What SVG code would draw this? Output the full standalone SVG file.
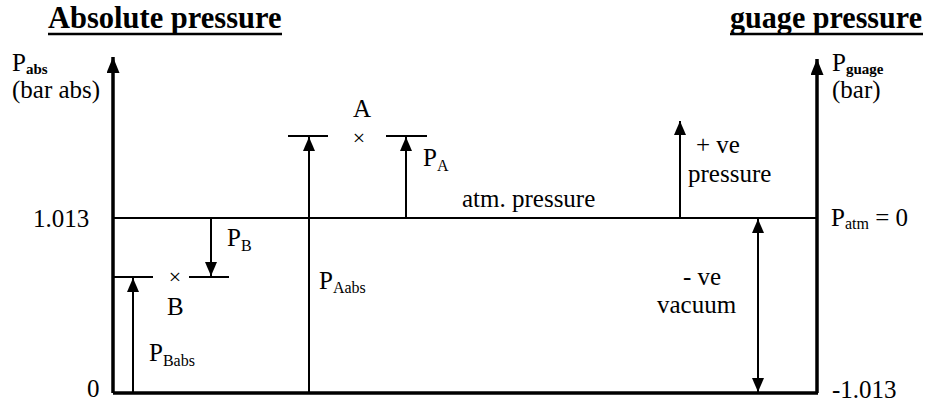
<svg xmlns="http://www.w3.org/2000/svg" width="925" height="403" viewBox="0 0 925 403">
<style>
text{font-family:"Liberation Serif","Times New Roman",serif;fill:#000}
.t{font-size:25px}
.title{font-size:30.5px;font-weight:bold}
.sub{font-size:16px}
.subb{font-size:15px;font-weight:bold}
.x{font-size:22px}
.axis{stroke:#000;stroke-width:3.5;fill:none}
.thin{stroke:#000;stroke-width:2;fill:none}
</style>
<defs>
<marker id="ah" markerUnits="userSpaceOnUse" markerWidth="14" markerHeight="12" refX="14" refY="6" orient="auto">
<path d="M0,0 L14,6 L0,12 z" fill="#000"/>
</marker>
<marker id="ahs" markerUnits="userSpaceOnUse" markerWidth="14" markerHeight="12" refX="0" refY="6" orient="auto">
<path d="M14,0 L0,6 L14,12 z" fill="#000"/>
</marker>
<marker id="big" markerUnits="userSpaceOnUse" markerWidth="16" markerHeight="13" refX="16" refY="6.5" orient="auto">
<path d="M0,0 L16,6.5 L0,13 z" fill="#000"/>
</marker>
</defs>

<g id="titles">
<text class="title" x="48" y="28">Absolute pressure</text>
<line x1="48" y1="34" x2="282" y2="34" stroke="#000" stroke-width="2.5"/>
<text class="title" x="730" y="28" textLength="192" lengthAdjust="spacingAndGlyphs">guage pressure</text>
<line x1="730" y1="34" x2="923" y2="34" stroke="#000" stroke-width="2.5"/>
</g>

<g id="axis-left">
<line class="axis" x1="113" y1="393" x2="113" y2="57" marker-end="url(#big)"/>
<text class="t" x="12" y="71">P<tspan class="subb" dy="3">abs</tspan></text>
<text class="t" x="12" y="98">(bar abs)</text>
<text class="t" x="33" y="227">1.013</text>
<text class="t" x="87" y="397">0</text>
</g>

<g id="axis-right">
<line class="axis" x1="817" y1="393" x2="817" y2="59" marker-end="url(#big)"/>
<text class="t" x="832" y="71">P<tspan class="subb" dy="3">guage</tspan></text>
<text class="t" x="832" y="98">(bar)</text>
<text class="t" x="831" y="226">P<tspan class="sub" dy="3">atm</tspan><tspan dy="-3"> = 0</tspan></text>
<text class="t" x="832" y="398">-1.013</text>
</g>

<g id="baseline">
<line class="axis" x1="113" y1="393" x2="818" y2="393"/>
</g>

<g id="atm-line">
<line class="thin" x1="113" y1="218" x2="817" y2="218"/>
<text class="t" x="462" y="207">atm. pressure</text>
</g>

<g id="point-A">
<line class="thin" x1="288" y1="136" x2="328" y2="136"/>
<line class="thin" x1="386" y1="136" x2="427" y2="136"/>
<text class="t" x="353" y="117">A</text>
<text class="x" x="359" y="145" text-anchor="middle">×</text>
</g>

<g id="point-B">
<line class="thin" x1="113" y1="277" x2="153" y2="277"/>
<line class="thin" x1="189" y1="277" x2="229" y2="277"/>
<text class="x" x="175" y="284" text-anchor="middle">×</text>
<text class="t" x="167" y="315">B</text>
</g>

<g id="connectors">
<line class="thin" x1="309" y1="393" x2="309" y2="137" marker-end="url(#ah)"/>
<line class="thin" x1="406" y1="218" x2="406" y2="137" marker-end="url(#ah)"/>
<line class="thin" x1="133" y1="393" x2="133" y2="278" marker-end="url(#ah)"/>
<line class="thin" x1="211" y1="218" x2="211" y2="276" marker-end="url(#ah)"/>
<line class="thin" x1="680" y1="218" x2="680" y2="121" marker-end="url(#ah)"/>
<line class="thin" x1="758" y1="219" x2="758" y2="392" marker-start="url(#ahs)" marker-end="url(#ah)"/>
</g>

<g id="labels">
<text class="t" x="319" y="289">P<tspan class="sub" dy="4">Aabs</tspan></text>
<text class="t" x="423" y="166">P<tspan class="sub" dy="5">A</tspan></text>
<text class="t" x="149" y="361">P<tspan class="sub" dy="5">Babs</tspan></text>
<text class="t" x="227" y="246">P<tspan class="sub" dy="5">B</tspan></text>
<text class="t" x="696" y="153">+ ve</text>
<text class="t" x="688" y="182">pressure</text>
<text class="t" x="683" y="285">- ve</text>
<text class="t" x="657" y="313">vacuum</text>
</g>
</svg>
